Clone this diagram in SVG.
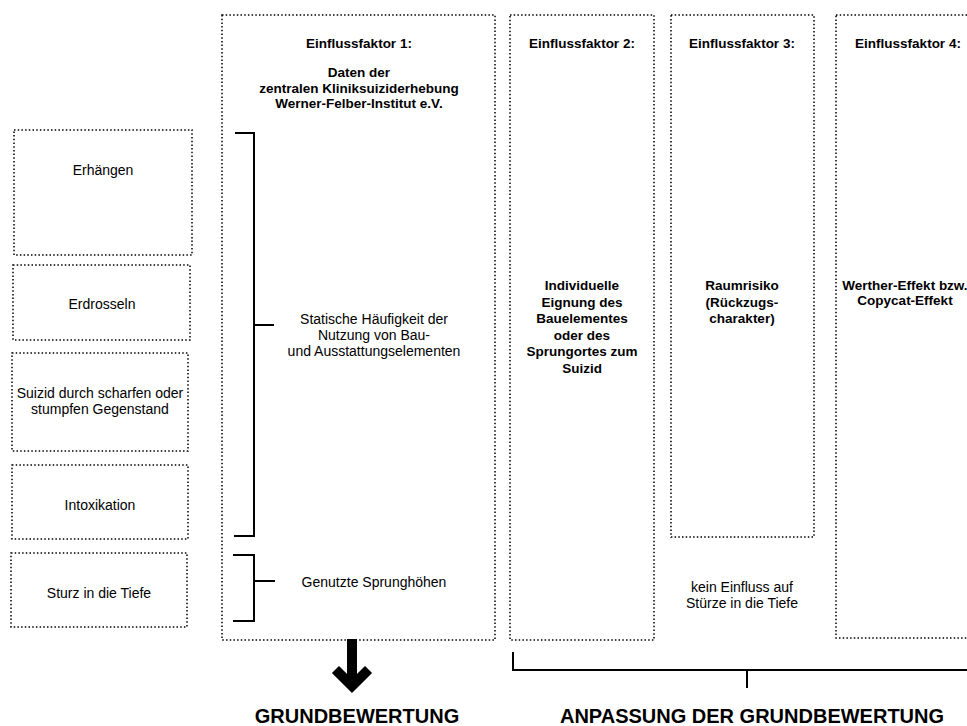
<svg xmlns="http://www.w3.org/2000/svg" width="967" height="726" viewBox="0 0 967 726">
<style>
.box{fill:none;stroke:#000;stroke-width:1.5;stroke-dasharray:1.5 2.2}
.t{font-family:"Liberation Sans",Arial,Helvetica,sans-serif;font-size:14px;fill:#000;text-anchor:middle}
.b{font-family:"Liberation Sans",Arial,Helvetica,sans-serif;font-size:13.5px;font-weight:bold;fill:#000;text-anchor:middle}
.h{font-family:"Liberation Sans",Arial,Helvetica,sans-serif;font-size:20px;font-weight:bold;fill:#000;text-anchor:middle}
.br{fill:none;stroke:#000;stroke-width:2}
</style>
<rect width="967" height="726" fill="#fff"/>

<g id="erhaengen">
<rect class="box" x="14" y="130" width="178" height="125"/>
<text class="t" x="103" y="175">Erhängen</text>
</g>
<g id="erdrosseln">
<rect class="box" x="13" y="265" width="177" height="75"/>
<text class="t" x="102" y="309">Erdrosseln</text>
</g>
<g id="suizid-gegenstand">
<rect class="box" x="12" y="353" width="176" height="98"/>
<text class="t" x="100" y="398">Suizid durch scharfen oder</text>
<text class="t" x="100" y="414">stumpfen Gegenstand</text>
</g>
<g id="intoxikation">
<rect class="box" x="12" y="465" width="176" height="74"/>
<text class="t" x="100" y="510">Intoxikation</text>
</g>
<g id="sturz">
<rect class="box" x="11" y="553" width="176" height="74"/>
<text class="t" x="99" y="598">Sturz in die Tiefe</text>
</g>

<g id="einflussfaktor1">
<rect class="box" x="222" y="15" width="273" height="625"/>
<text class="b" x="359" y="48">Einflussfaktor 1:</text>
<text class="b" x="359" y="77">Daten der</text>
<text class="b" x="359" y="93">zentralen Kliniksuiziderhebung</text>
<text class="b" x="359" y="108">Werner-Felber-Institut e.V.</text>
<text class="t" x="374" y="324">Statische Häufigkeit der</text>
<text class="t" x="374" y="340">Nutzung von Bau-</text>
<text class="t" x="374" y="356">und Ausstattungselementen</text>
<text class="t" x="374" y="587">Genutzte Sprunghöhen</text>
</g>

<g id="einflussfaktor2">
<rect class="box" x="510" y="15" width="144" height="625"/>
<text class="b" x="582" y="48">Einflussfaktor 2:</text>
<text class="b" x="582" y="290">Individuelle</text>
<text class="b" x="582" y="306.5">Eignung des</text>
<text class="b" x="582" y="323">Bauelementes</text>
<text class="b" x="582" y="339.5">oder des</text>
<text class="b" x="582" y="356">Sprungortes zum</text>
<text class="b" x="582" y="372.5">Suizid</text>
</g>

<g id="einflussfaktor3">
<rect class="box" x="671" y="15" width="143" height="522"/>
<text class="b" x="742" y="48">Einflussfaktor 3:</text>
<text class="b" x="742" y="290">Raumrisiko</text>
<text class="b" x="742" y="306.5">(Rückzugs-</text>
<text class="b" x="742" y="323">charakter)</text>
<text class="t" x="742" y="592">kein Einfluss auf</text>
<text class="t" x="742" y="608">Stürze in die Tiefe</text>
</g>

<g id="einflussfaktor4">
<rect class="box" x="836" y="15" width="144" height="623"/>
<text class="b" x="908" y="48">Einflussfaktor 4:</text>
<text class="b" x="905" y="290">Werther-Effekt bzw.</text>
<text class="b" x="905" y="305">Copycat-Effekt</text>
</g>

<g id="connectors">
<polyline class="br" points="235,133 254,133 254,536 234,536"/>
<line class="br" x1="254" y1="325" x2="274" y2="325"/>
<polyline class="br" points="233,555 254,555 254,621 233,621"/>
<line class="br" x1="254" y1="581" x2="275" y2="581"/>
<line x1="352" y1="639" x2="352" y2="684" stroke="#000" stroke-width="10"/>
<polyline points="339,673 352,686 365,673" fill="none" stroke="#000" stroke-width="10" stroke-linecap="square"/>
<polyline class="br" points="513,652 513,670 967,670"/>
<line class="br" x1="747" y1="670" x2="747" y2="688"/>
</g>

<g id="labels">
<text class="h" x="357" y="723">GRUNDBEWERTUNG</text>
<text class="h" x="752" y="723">ANPASSUNG DER GRUNDBEWERTUNG</text>
</g>
</svg>
